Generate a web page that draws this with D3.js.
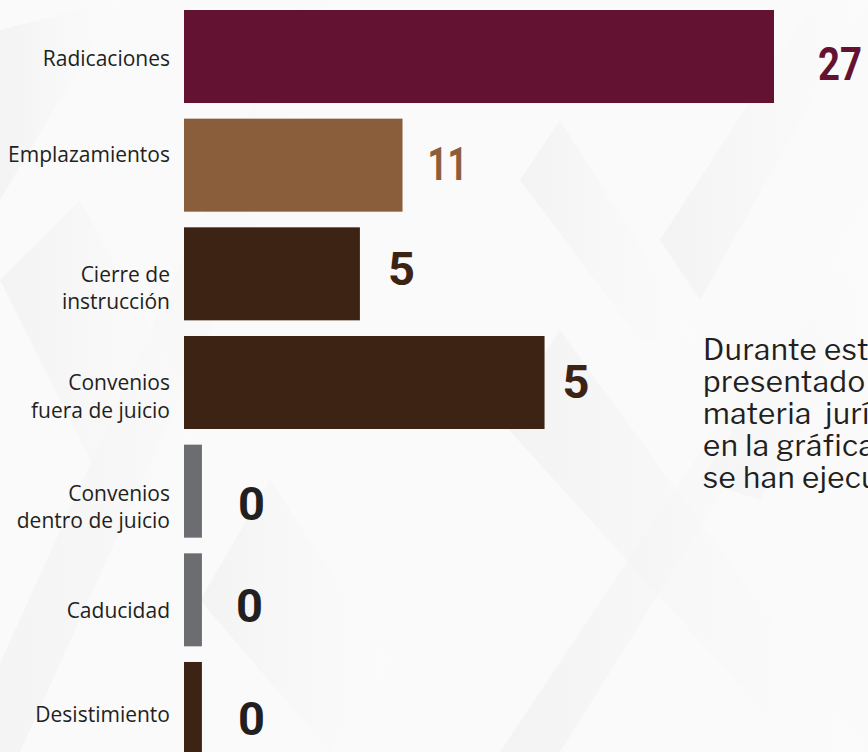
<!DOCTYPE html>
<html><head><meta charset="utf-8">
<script src="https://cdn.jsdelivr.net/npm/d3@7"></script>
<style>html,body{margin:0;padding:0;background:#fafafa;overflow:hidden}</style>
</head><body>
<svg id="c" width="868" height="752"></svg>
<script>
// ---- data ----
const categories = [
  ["Radicaciones"],
  ["Emplazamientos"],
  ["Cierre de", "instrucción"],
  ["Convenios", "fuera de juicio"],
  ["Convenios", "dentro de juicio"],
  ["Caducidad"],
  ["Desistimiento"]
];
const values = [27, 11, 5, 5, 0, 0, 0];                     // printed values
const barLengths = [27, 10, 8.05, 16.5, 0.82, 0.82, 0.82];  // bar lengths as drawn in the source (not proportional)
const barColors = ["#631232", "#8a5d3b", "#3d2314", "#3d2314", "#6c6d70", "#6c6d70", "#3d2314"];
const labelColors = ["#631232", "#8a5d3b", "#3d2314", "#3d2314", "#231f20", "#231f20", "#231f20"];
const noteLines = ["Durante este periodo se han", "presentado diversos asuntos en", "materia  jurídica, como se muestra", "en la gráfica, de los cuales", "se han ejecutado"];

// ---- layout ----
const labelDx = [44, 25, 28, 18, 36, 34, 36];
const labelDy = [6.5, -2, -6, -1.5, 12, 5, 9.5];
const labelFit = [44, 40, null, null, null, null, null];
const catDy = [9.2, -3.5, 7.9, 7.5, 9.8, 18.2, 13.2];

const svg = d3.select("#c");

// background pattern
const defs = svg.append("defs");
const g1 = defs.append("linearGradient").attr("id","gr1").attr("x1","0").attr("x2","1").attr("y1","0").attr("y2","0");
g1.append("stop").attr("offset","0").attr("stop-color","#ececec");
g1.append("stop").attr("offset","0.5").attr("stop-color","#f6f6f6");
g1.append("stop").attr("offset","1").attr("stop-color","#fbfbfb");
svg.append("rect").attr("width",868).attr("height",752).attr("fill","#fafafa");
const bg = svg.append("g");
const polys = [
  [[300,0],[360,0],[20,752],[-40,752]],
  [[560,120],[700,340],[640,340],[520,180]],
  [[660,240],[868,-80],[868,0],[700,300]],
  [[560,330],[868,752],[800,752],[500,420]],
  [[270,480],[390,660],[330,752],[200,600]],
  [[700,480],[868,230],[868,330],[760,500]],
  [[0,280],[80,200],[200,420],[120,520]],
  [[500,752],[868,200],[868,260],[560,752]],
  [[0,30],[120,0],[0,200]]
];
bg.selectAll("polygon").data(polys).join("polygon")
  .attr("points", d => d.map(p => p.join(",")).join(" "))
  .attr("fill","url(#gr1)").attr("opacity",0.5);

// scales
const y = d3.scaleBand().domain(d3.range(categories.length)).range([10, 755]).paddingInner(0.144).paddingOuter(0);
const x = d3.scaleLinear().domain([0, 27]).range([184, 774]);

// bars
svg.append("g").selectAll("rect").data(barLengths).join("rect")
  .attr("x", x(0)).attr("y", (d,i) => y(i))
  .attr("width", d => x(d) - x(0)).attr("height", y.bandwidth())
  .attr("fill", (d,i) => barColors[i]);

// category labels
const lab = svg.append("g").attr("font-family","'Open Sans', 'Noto Sans', sans-serif")
  .attr("font-size",21).attr("fill","#231f20").attr("text-anchor","end");
categories.forEach((lines,i) => {
  const cy = y(i) + y.bandwidth()/2 + catDy[i];
  const t = lab.append("text");
  lines.forEach((ln,j) => {
    t.append("tspan").attr("x",170).attr("y", cy + j*27.5).text(ln);
  });
});

// value labels
svg.append("g").selectAll("text").data(values).join("text")
  .attr("x", (d,i) => x(barLengths[i]) + labelDx[i])
  .attr("y", (d,i) => y(i) + y.bandwidth()/2 + 17 + labelDy[i])
  .attr("font-family","Roboto, 'Liberation Sans', sans-serif")
  .attr("font-weight",700).attr("font-size",47)
  .attr("fill",(d,i) => labelColors[i])
  .each(function(d,i){ if (labelFit[i]) d3.select(this).attr("textLength",labelFit[i]).attr("lengthAdjust","spacingAndGlyphs"); })
  .text(d => d);

// note text
svg.append("g").selectAll("text").data(noteLines).join("text")
  .attr("x",703).attr("y",(d,i) => 360 + i*32)
  .attr("font-family","'Libre Franklin', Inter, 'Noto Sans', sans-serif")
  .attr("font-size",29.5).attr("letter-spacing",0.5).attr("fill","#231f20")
  .attr("xml:space","preserve").style("white-space","pre")
  .text(d => d);
</script>
</body></html>
